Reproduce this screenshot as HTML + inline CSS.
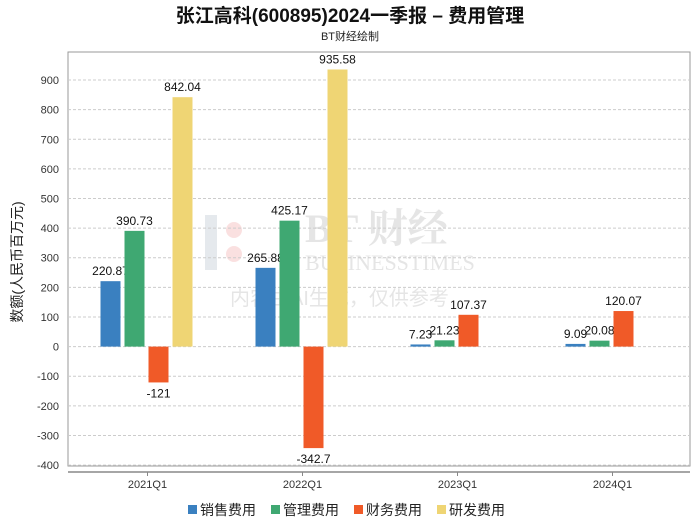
<!DOCTYPE html>
<html><head><meta charset="utf-8"><style>
body{margin:0;background:#fff;font-family:"Liberation Sans","Noto Sans CJK SC",sans-serif;}
</style></head><body>
<svg id="c" width="700" height="524" style="display:block">
<text x="350" y="22" text-anchor="middle" font-size="19" font-weight="bold" fill="#111" font-family="Liberation Sans,Noto Sans CJK SC,sans-serif">张江高科(600895)2024一季报 – 费用管理</text>
<text x="350" y="40" text-anchor="middle" font-size="11" fill="#222">BT财经绘制</text>
<g opacity="0.25">
<text x="305" y="242" font-size="40" font-weight="bold" fill="#999" font-family="Liberation Serif,Noto Serif CJK SC,serif">BT 财经</text>
<text x="305" y="270" font-size="22" fill="#999" font-family="Liberation Serif,serif">BUSINESSTIMES</text>
<text x="230" y="305" font-size="20" fill="#999">内容由AI生成，仅供参考</text>
<rect x="205" y="215" width="12" height="55" fill="#9ab"/><circle cx="234" cy="230" r="8" fill="#e88"/><circle cx="234" cy="254" r="8" fill="#e88"/>
</g>
<g id="grid"></g><g id="bars"></g>
<text transform="translate(22,262) rotate(-90)" text-anchor="middle" font-size="14" fill="#222">数额(人民币百万元)</text>
<g id="legend"></g>
</svg>
<script>
const categories=["2021Q1","2022Q1","2023Q1","2024Q1"];
const seriesNames=["销售费用","管理费用","财务费用","研发费用"];
const colors=["#3a80c0","#3fa872","#f05a28","#efd574"];
const sales=[220.87,265.88,7.23,9.09];
const admin=[390.73,425.17,21.23,20.08];
const finance=[-121,-342.7,107.37,120.07];
const rnd=[842.04,935.58,0,0];
const rndLabels=["842.04","935.58","",""];
const yTicks=[900,800,700,600,500,400,300,200,100,0,-100,-200,-300,-400];
const ns="http://www.w3.org/2000/svg";
const L=68,R=690,T=52,B=472;
const y=v=>346.6-v*0.2962;
const gw=155;
const xc=i=>L+2+gw*(i+0.5);
function mk(t,a,p){const e=document.createElementNS(ns,t);for(const k in a)e.setAttribute(k,a[k]);(p||document.getElementById('c')).appendChild(e);return e;}
const grid=document.getElementById('grid');
const fr=mk('rect',{x:L,y:T,width:R-L,height:B-T-6,fill:'none',stroke:'#999'},grid);


mk('line',{x1:L,x2:R,y1:B,y2:B,stroke:'#888','stroke-width':1.5},grid);
yTicks.forEach(v=>{
 const g=mk('line',{x1:L,x2:R,y1:y(v),y2:y(v),stroke:'#ccc','stroke-dasharray':'3,2'},grid);
 
 
 const t=mk('text',{x:L-9,y:y(v)+4,'text-anchor':'end','font-size':11,fill:'#333'},grid);t.textContent=v;
 
 
});
const series=[sales,admin,finance,rnd];
const bars=document.getElementById('bars');
categories.forEach((c,i)=>{
 const t=mk('text',{x:xc(i),y:488,'text-anchor':'middle','font-size':11,fill:'#333'},bars);t.textContent=c;
 
 
 mk('line',{x1:xc(i),x2:xc(i),y1:B,y2:B+4,stroke:'#888'},bars);
 series.forEach((s,k)=>{
  const v=s[i];
  const lab=k===3?rndLabels[i]:String(v);
  if(k===3&&v===0)return;
  const x=xc(i)-47+k*24;
  const r=mk('rect',{x:x,y:Math.min(y(v),y(0)),width:20,height:Math.abs(y(v)-y(0)),fill:colors[k]},bars);
  
  
  const ty=v>=0?y(v)-6:y(v)+15;
  const tl=mk('text',{x:x+10,y:ty,'text-anchor':'middle','font-size':12,fill:'#111'},bars);tl.textContent=lab;
  
  
 });
});
const lg=document.getElementById('legend');
let lx=188;
seriesNames.forEach((n,k)=>{
 const g=mk('g',{},lg);
 
 
 mk('rect',{x:lx,y:505,width:9,height:9,fill:colors[k]},g);
 const t=mk('text',{x:lx+12,y:515,'font-size':14,fill:'#222'},g);t.textContent=n;
 lx+=83;
});
</script>
</body></html>
